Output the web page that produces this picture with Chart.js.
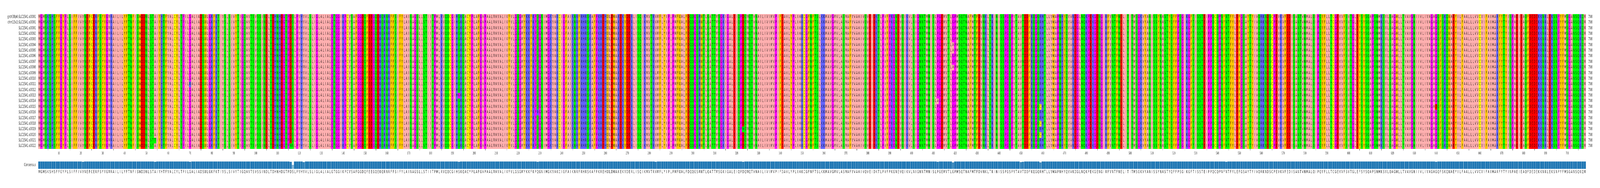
<!DOCTYPE html>
<html>
<head>
<meta charset="utf-8">
<title>SLC15A1 alignment</title>
<script src="https://cdn.jsdelivr.net/npm/chart.js@4/dist/chart.umd.min.js"></script>
<style>
    html, body { margin: 0; padding: 0; background: #fff; overflow: hidden; }
    /* the sandbox window can be narrower than the 7377 px drawing, so fit it to the window width */
    canvas { position: absolute; left: 0; display: block; width: 100vw !important; }
    #msa { top: 0; }
    #cons { top: 396px; }
</style>
</head>
<body>
<canvas id="msa" width="7377" height="400"></canvas>
<canvas id="cons" width="7377" height="85"></canvas>
<script>
const rowNames = [
    "grch38p0:SLC15A1:a0001", "chm13v2:SLC15A1:a0001",
    "SLC15A1:a0001", "SLC15A1:a0002", "SLC15A1:a0003", "SLC15A1:a0004",
    "SLC15A1:a0005", "SLC15A1:a0006", "SLC15A1:a0007", "SLC15A1:a0008",
    "SLC15A1:a0009", "SLC15A1:a0010", "SLC15A1:a0011", "SLC15A1:a0012",
    "SLC15A1:a0013", "SLC15A1:a0014", "SLC15A1:a0015", "SLC15A1:a0016",
    "SLC15A1:a0017", "SLC15A1:a0018", "SLC15A1:a0019", "SLC15A1:a0020",
    "SLC15A1:a0021", "SLC15A1:a0022"
];

// consensus, 708 residues
const consensus = (
    "MGMSKSHSFFGYPLSIFFIVVNEFCERFSYYGMRAILILYFTNFISWDDN" +
    "LSTAIYHTFVALCYLTPILGALIADSWLGKFKTIVSLSIVYTIGQAVTSV" +
    "SSINDLTDHNHDGTPDSLPVHVVLSLIGLALIALGTGGIKPCVSAFGGDQ" +
    "FEEGQEKQRNRFFSIFYLAINAGSLLSTIITPMLRVQQCGIHSKQACYPL" +
    "AFGVPAALMAVALIVFVLGSGMYKKFKPQGNIMGKVAKCIGFAIKNRFRH" +
    "RSKAFPKREHWLDWAKEKYDERLISQIKMVTRVMFLYIPLPMFWALFDQQ" +
    "GSRWTLQATTMSGKIGALEIQPDQMQTVNAILIVIMVPIFDAVLYPLIAK" +
    "CGFNFTSLKKMAVGMVLASMAFVVAAIVQVEIDKTLPVFPKGNEVQIKVL" +
    "NIGNNTMNISLPGEMVTLGPMSQTNAFMTFDVNKLTRINISSPGSPVTAV" +
    "TDDFKQGQRHTLLVWAPNHYQVVKDGLNQKPEKGENGIRFVNTFNELITI" +
    "TMSGKVYANISSYNASTYQFFPSGIKGFTISSTEIPPQCQPNFNTFYLEF" +
    "GSAYTYIVQRKNDSCPEVKVFEDISANTVNMALQIPQYFLLTCGEVVFSV" +
    "TGLEFSYSQAPSNMKSVLQAGWLLTVAVGNIIVLIVAGAGQFSKQWAEYI" +
    "LFAALLLVVCVIFAIMARFYTYINPAEIEAQFDEDEKKNRLEKSNPYFMS" +
    "GANSQKQM"
).split("");

// [row index, column (1-based), residue] where a row differs from the consensus
const variants = [
    [18, 21, "I"], [22, 54, "T"], [12, 70, "R"], [23, 116, "N"],
    [3, 117, "N"], [6, 117, "N"], [7, 117, "N"], [8, 117, "N"], [9, 117, "N"], [11, 117, "N"],
    [15, 117, "N"], [16, 117, "N"], [19, 117, "N"], [20, 117, "N"], [23, 117, "N"],
    [9, 122, "M"], [11, 122, "M"], [14, 193, "G"], [17, 229, "R"], [10, 283, "L"],
    [20, 323, "N"], [15, 412, "A"], [5, 419, "A"], [6, 419, "A"], [9, 419, "A"],
    [4, 450, "I"], [7, 450, "I"], [8, 451, "N"],
    [16, 459, "C"], [19, 459, "C"], [21, 459, "C"], [13, 544, "S"], [16, 640, "E"]
];

// consensus bar height per column, 1 everywhere except these
const dipColumns = [21, 54, 70, 116, 117, 122, 193, 229, 283, 323, 412, 419, 450, 451, 459, 544, 640];
const dipValues = [0.96, 0.96, 0.96, 0.96, 0.54, 0.92, 0.96, 0.96, 0.96, 0.96, 0.96, 0.875, 0.92, 0.96, 0.875, 0.96, 0.96];

const seqLength = "708";
const tickStep = 10;

const zappo = {
    A: "#ffafaf", I: "#ffafaf", L: "#ffafaf", M: "#ffafaf", V: "#ffafaf",
    F: "#ffc800", W: "#ffc800", Y: "#ffc800",
    K: "#6464ff", R: "#6464ff", H: "#6464ff",
    D: "#ff0000", E: "#ff0000",
    S: "#00ff00", T: "#00ff00", N: "#00ff00", Q: "#00ff00",
    G: "#ff00ff", P: "#ff00ff",
    C: "#ffff00"
};

const labelFont = { family: "'DejaVu Sans'", size: 10 };
const textColor = "#262626";
const columns = consensus.map((_, i) => String(i + 1));

const rows = rowNames.map((_, r) => {
    const seq = consensus.slice();
    variants.forEach(([row, col, aa]) => {
        if (row === r) seq[col - 1] = aa;
    });
    return seq;
});

const conservation = consensus.map((_, i) => {
    const k = dipColumns.indexOf(i + 1);
    return k >= 0 ? dipValues[k] : 1;
});

// residue letters on top of the cells
const letterPlugin = {
    id: "letters",
    afterDatasetsDraw(chart) {
        const { ctx, scales } = chart;
        ctx.save();
        ctx.font = "10px 'DejaVu Sans'";
        ctx.textAlign = "center";
        ctx.textBaseline = "middle";
        ctx.fillStyle = "rgba(0, 0, 0, 0.8)";
        rows.forEach((seq, r) => {
            const y = scales.y.getPixelForValue(r + 0.5);
            seq.forEach((aa, i) => {
                ctx.fillText(aa, scales.x.getPixelForValue(i), y);
            });
        });
        ctx.restore();
    }
};

const rowTicks = (scale) => {
    scale.ticks = rowNames.map((_, r) => ({ value: r + 0.5 }));
};

new Chart(document.getElementById("msa"), {
    type: "bar",
    data: {
        labels: columns,
        datasets: rows.map((seq, r) => ({
            label: rowNames[r],
            data: seq.map(() => 1),
            backgroundColor: seq.map((aa) => zappo[aa]),
            borderWidth: 0,
            barPercentage: 1,
            categoryPercentage: 1
        }))
    },
    options: {
        responsive: false,
        animation: false,
        devicePixelRatio: 1,
        events: [],
        layout: { padding: { top: 36, left: 0, right: 0, bottom: 0 } },
        plugins: { legend: { display: false }, tooltip: { enabled: false } },
        scales: {
            x: {
                stacked: true,
                afterBuildTicks: (scale) => {
                    scale.ticks = scale.ticks.filter((t) => (t.value + 1) % tickStep === 0);
                },
                afterFit: (scale) => { scale.height = 19; },
                border: { display: false },
                grid: { drawOnChartArea: false, tickLength: 4, tickColor: "#333", tickWidth: 1 },
                ticks: {
                    autoSkip: false,
                    maxRotation: 0,
                    minRotation: 0,
                    padding: 2,
                    color: textColor,
                    font: { family: "'Liberation Sans Narrow'", size: 9.5 }
                }
            },
            y: {
                stacked: true,
                reverse: true,
                min: 0,
                max: rowNames.length,
                afterBuildTicks: rowTicks,
                afterFit: (scale) => { scale.width = 176; },
                border: { display: false },
                grid: { display: false, drawTicks: false },
                ticks: {
                    autoSkip: false,
                    padding: 11,
                    color: textColor,
                    font: labelFont,
                    callback: (v) => rowNames[v - 0.5]
                }
            },
            yRight: {
                position: "right",
                reverse: true,
                min: 0,
                max: rowNames.length,
                afterBuildTicks: rowTicks,
                afterFit: (scale) => { scale.width = 65; },
                border: { display: false },
                grid: { display: false, drawTicks: false },
                ticks: {
                    autoSkip: false,
                    padding: 11,
                    color: textColor,
                    font: labelFont,
                    callback: () => seqLength
                }
            }
        }
    },
    plugins: [letterPlugin]
});

new Chart(document.getElementById("cons"), {
    type: "bar",
    data: {
        labels: consensus,
        datasets: [{
            label: "Consensus",
            data: conservation,
            backgroundColor: conservation.map((v) => `rgba(31, 119, 180, ${v})`),
            borderColor: "#c5dae9",
            borderWidth: 0.65,
            barPercentage: 1,
            categoryPercentage: 1
        }]
    },
    options: {
        responsive: false,
        animation: false,
        devicePixelRatio: 1,
        events: [],
        layout: { padding: { top: 7, left: 0, right: 65, bottom: 0 } },
        plugins: { legend: { display: false }, tooltip: { enabled: false } },
        scales: {
            x: {
                afterFit: (scale) => { scale.height = 49; },
                border: { display: false },
                grid: { display: false, drawTicks: false },
                ticks: {
                    autoSkip: false,
                    maxRotation: 0,
                    minRotation: 0,
                    padding: 2,
                    color: textColor,
                    font: labelFont
                }
            },
            y: {
                min: 0,
                max: 1,
                afterBuildTicks: (scale) => { scale.ticks = [{ value: 0.5 }]; },
                afterFit: (scale) => { scale.width = 176; },
                border: { display: false },
                grid: { display: false, drawTicks: false },
                ticks: {
                    padding: 11,
                    color: textColor,
                    font: labelFont,
                    callback: () => "Consensus"
                }
            }
        }
    }
});
</script>
</body>
</html>
